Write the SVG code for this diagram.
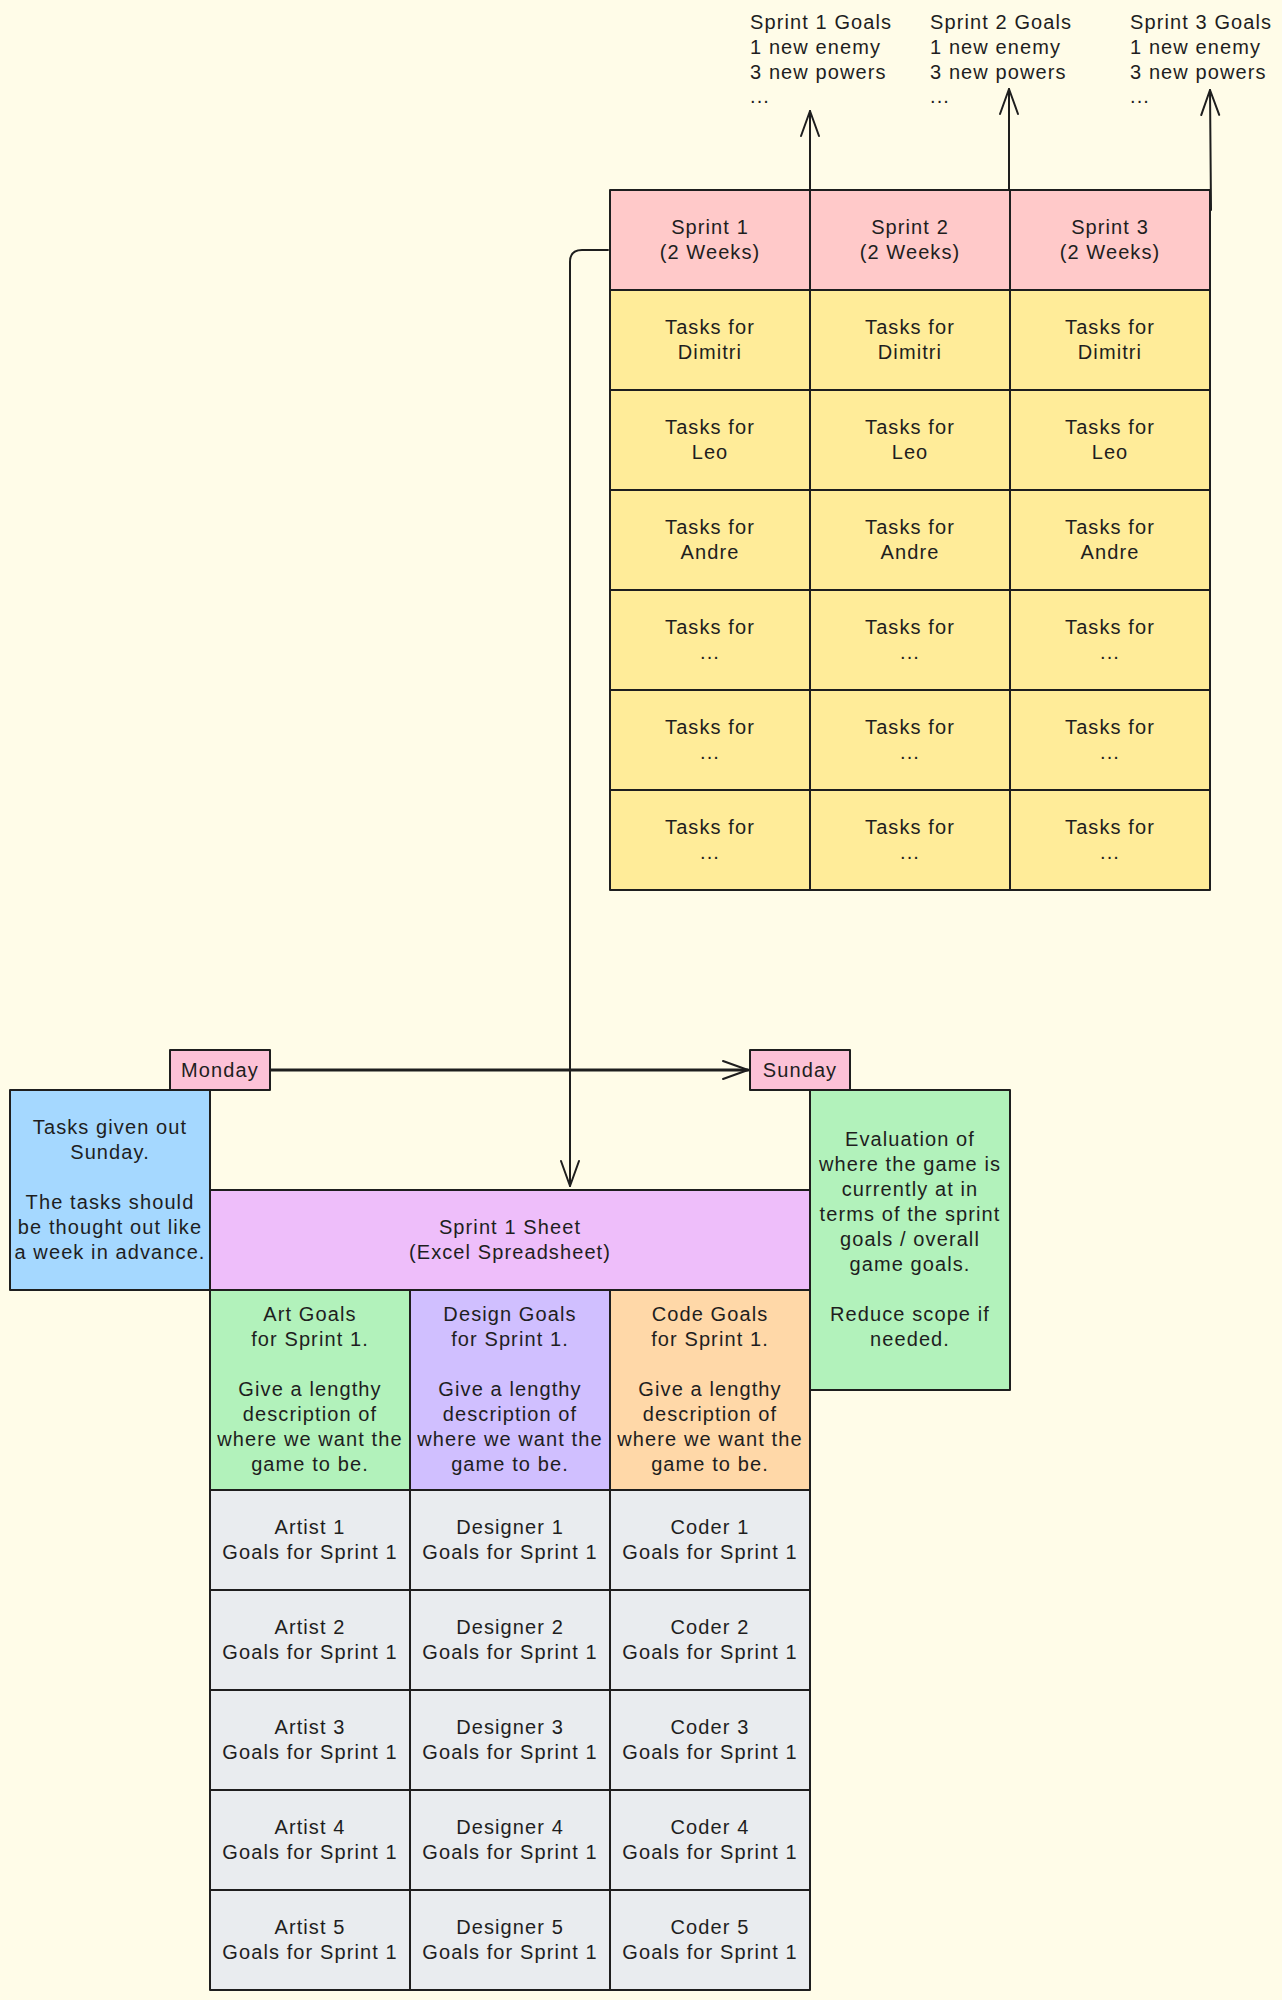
<svg xmlns="http://www.w3.org/2000/svg" width="1282" height="2000" viewBox="0 0 1282 2000">
<style>
.t{font-family:"Liberation Sans",Arial,sans-serif;font-size:20px;letter-spacing:1.1px;fill:#1e1e1e;text-anchor:middle}
.l{font-family:"Liberation Sans",Arial,sans-serif;font-size:20px;letter-spacing:1.1px;fill:#1e1e1e}
.c{stroke:#1e1e1e;stroke-width:2;stroke-linejoin:round}
.hd{fill:#ffc9c9}.yl{fill:#ffec99}.bl{fill:#a5d8ff}.gp{fill:#eebefa}.gr{fill:#b2f2bb}.vi{fill:#d0bfff}.or{fill:#ffd8a8}.gy{fill:#e9ecef}.pk{fill:#fcc2d7}
.a{fill:none;stroke:#1e1e1e;stroke-width:2;stroke-linecap:round;stroke-linejoin:round}
</style>
<defs>
<marker id="ah" markerUnits="userSpaceOnUse" viewBox="-30 -14 34 28" markerWidth="34" markerHeight="28" refX="0" refY="0" orient="auto" overflow="visible">
<path d="M -25 -9 L 0 0 L -25 9" fill="none" stroke="#1e1e1e" stroke-width="2" stroke-linecap="round" stroke-linejoin="round"/>
</marker>
</defs>
<rect width="1282" height="2000" fill="#fffce8"/>

<g id="goals-text">
<text class="l" x="750" y="29">Sprint 1 Goals</text>
<text class="l" x="750" y="54">1 new enemy</text>
<text class="l" x="750" y="79">3 new powers</text>
<text class="l" x="750" y="103">...</text>
<text class="l" x="930" y="29">Sprint 2 Goals</text>
<text class="l" x="930" y="54">1 new enemy</text>
<text class="l" x="930" y="79">3 new powers</text>
<text class="l" x="930" y="103">...</text>
<text class="l" x="1130" y="29">Sprint 3 Goals</text>
<text class="l" x="1130" y="54">1 new enemy</text>
<text class="l" x="1130" y="79">3 new powers</text>
<text class="l" x="1130" y="103">...</text>
</g>

<g id="sprint1-header"><rect class="c hd" x="610" y="190" width="200" height="100"/><text class="t"><tspan x="710" y="234">Sprint 1</tspan><tspan x="710" y="259">(2 Weeks)</tspan></text></g>
<g id="sprint2-header"><rect class="c hd" x="810" y="190" width="200" height="100"/><text class="t"><tspan x="910" y="234">Sprint 2</tspan><tspan x="910" y="259">(2 Weeks)</tspan></text></g>
<g id="sprint3-header"><rect class="c hd" x="1010" y="190" width="200" height="100"/><text class="t"><tspan x="1110" y="234">Sprint 3</tspan><tspan x="1110" y="259">(2 Weeks)</tspan></text></g>

<g id="s1-dimitri"><rect class="c yl" x="610" y="290" width="200" height="100"/><text class="t"><tspan x="710" y="334">Tasks for</tspan><tspan x="710" y="359">Dimitri</tspan></text></g>
<g id="s2-dimitri"><rect class="c yl" x="810" y="290" width="200" height="100"/><text class="t"><tspan x="910" y="334">Tasks for</tspan><tspan x="910" y="359">Dimitri</tspan></text></g>
<g id="s3-dimitri"><rect class="c yl" x="1010" y="290" width="200" height="100"/><text class="t"><tspan x="1110" y="334">Tasks for</tspan><tspan x="1110" y="359">Dimitri</tspan></text></g>

<g id="s1-leo"><rect class="c yl" x="610" y="390" width="200" height="100"/><text class="t"><tspan x="710" y="434">Tasks for</tspan><tspan x="710" y="459">Leo</tspan></text></g>
<g id="s2-leo"><rect class="c yl" x="810" y="390" width="200" height="100"/><text class="t"><tspan x="910" y="434">Tasks for</tspan><tspan x="910" y="459">Leo</tspan></text></g>
<g id="s3-leo"><rect class="c yl" x="1010" y="390" width="200" height="100"/><text class="t"><tspan x="1110" y="434">Tasks for</tspan><tspan x="1110" y="459">Leo</tspan></text></g>

<g id="s1-andre"><rect class="c yl" x="610" y="490" width="200" height="100"/><text class="t"><tspan x="710" y="534">Tasks for</tspan><tspan x="710" y="559">Andre</tspan></text></g>
<g id="s2-andre"><rect class="c yl" x="810" y="490" width="200" height="100"/><text class="t"><tspan x="910" y="534">Tasks for</tspan><tspan x="910" y="559">Andre</tspan></text></g>
<g id="s3-andre"><rect class="c yl" x="1010" y="490" width="200" height="100"/><text class="t"><tspan x="1110" y="534">Tasks for</tspan><tspan x="1110" y="559">Andre</tspan></text></g>

<g id="s1-more1"><rect class="c yl" x="610" y="590" width="200" height="100"/><text class="t"><tspan x="710" y="634">Tasks for</tspan><tspan x="710" y="659">...</tspan></text></g>
<g id="s2-more1"><rect class="c yl" x="810" y="590" width="200" height="100"/><text class="t"><tspan x="910" y="634">Tasks for</tspan><tspan x="910" y="659">...</tspan></text></g>
<g id="s3-more1"><rect class="c yl" x="1010" y="590" width="200" height="100"/><text class="t"><tspan x="1110" y="634">Tasks for</tspan><tspan x="1110" y="659">...</tspan></text></g>

<g id="s1-more2"><rect class="c yl" x="610" y="690" width="200" height="100"/><text class="t"><tspan x="710" y="734">Tasks for</tspan><tspan x="710" y="759">...</tspan></text></g>
<g id="s2-more2"><rect class="c yl" x="810" y="690" width="200" height="100"/><text class="t"><tspan x="910" y="734">Tasks for</tspan><tspan x="910" y="759">...</tspan></text></g>
<g id="s3-more2"><rect class="c yl" x="1010" y="690" width="200" height="100"/><text class="t"><tspan x="1110" y="734">Tasks for</tspan><tspan x="1110" y="759">...</tspan></text></g>

<g id="s1-more3"><rect class="c yl" x="610" y="790" width="200" height="100"/><text class="t"><tspan x="710" y="834">Tasks for</tspan><tspan x="710" y="859">...</tspan></text></g>
<g id="s2-more3"><rect class="c yl" x="810" y="790" width="200" height="100"/><text class="t"><tspan x="910" y="834">Tasks for</tspan><tspan x="910" y="859">...</tspan></text></g>
<g id="s3-more3"><rect class="c yl" x="1010" y="790" width="200" height="100"/><text class="t"><tspan x="1110" y="834">Tasks for</tspan><tspan x="1110" y="859">...</tspan></text></g>

<g id="monday"><rect class="c pk" x="170" y="1050" width="100" height="40"/><text class="t" x="220" y="1077">Monday</text></g>
<g id="sunday"><rect class="c pk" x="750" y="1050" width="100" height="40"/><text class="t" x="800" y="1077">Sunday</text></g>

<g id="tasks-given"><rect class="c bl" x="10" y="1090" width="200" height="200"/><text class="t"><tspan x="110" y="1134">Tasks given out</tspan><tspan x="110" y="1159">Sunday.</tspan><tspan x="110" y="1209">The tasks should</tspan><tspan x="110" y="1234">be thought out like</tspan><tspan x="110" y="1259">a week in advance.</tspan></text></g>

<g id="sprint1-sheet"><rect class="c gp" x="210" y="1190" width="600" height="100"/><text class="t"><tspan x="510" y="1234">Sprint 1 Sheet</tspan><tspan x="510" y="1259">(Excel Spreadsheet)</tspan></text></g>

<g id="evaluation"><rect class="c gr" x="810" y="1090" width="200" height="300"/><text class="t"><tspan x="910" y="1146">Evaluation of</tspan><tspan x="910" y="1171">where the game is</tspan><tspan x="910" y="1196">currently at in</tspan><tspan x="910" y="1221">terms of the sprint</tspan><tspan x="910" y="1246">goals / overall</tspan><tspan x="910" y="1271">game goals.</tspan><tspan x="910" y="1321">Reduce scope if</tspan><tspan x="910" y="1346">needed.</tspan></text></g>

<g id="art-goals"><rect class="c gr" x="210" y="1290" width="200" height="200"/><text class="t"><tspan x="310" y="1321">Art Goals</tspan><tspan x="310" y="1346">for Sprint 1.</tspan><tspan x="310" y="1396">Give a lengthy</tspan><tspan x="310" y="1421">description of</tspan><tspan x="310" y="1446">where we want the</tspan><tspan x="310" y="1471">game to be.</tspan></text></g>
<g id="design-goals"><rect class="c vi" x="410" y="1290" width="200" height="200"/><text class="t"><tspan x="510" y="1321">Design Goals</tspan><tspan x="510" y="1346">for Sprint 1.</tspan><tspan x="510" y="1396">Give a lengthy</tspan><tspan x="510" y="1421">description of</tspan><tspan x="510" y="1446">where we want the</tspan><tspan x="510" y="1471">game to be.</tspan></text></g>
<g id="code-goals"><rect class="c or" x="610" y="1290" width="200" height="200"/><text class="t"><tspan x="710" y="1321">Code Goals</tspan><tspan x="710" y="1346">for Sprint 1.</tspan><tspan x="710" y="1396">Give a lengthy</tspan><tspan x="710" y="1421">description of</tspan><tspan x="710" y="1446">where we want the</tspan><tspan x="710" y="1471">game to be.</tspan></text></g>

<g id="artist1"><rect class="c gy" x="210" y="1490" width="200" height="100"/><text class="t"><tspan x="310" y="1534">Artist 1</tspan><tspan x="310" y="1559">Goals for Sprint 1</tspan></text></g>
<g id="designer1"><rect class="c gy" x="410" y="1490" width="200" height="100"/><text class="t"><tspan x="510" y="1534">Designer 1</tspan><tspan x="510" y="1559">Goals for Sprint 1</tspan></text></g>
<g id="coder1"><rect class="c gy" x="610" y="1490" width="200" height="100"/><text class="t"><tspan x="710" y="1534">Coder 1</tspan><tspan x="710" y="1559">Goals for Sprint 1</tspan></text></g>

<g id="artist2"><rect class="c gy" x="210" y="1590" width="200" height="100"/><text class="t"><tspan x="310" y="1634">Artist 2</tspan><tspan x="310" y="1659">Goals for Sprint 1</tspan></text></g>
<g id="designer2"><rect class="c gy" x="410" y="1590" width="200" height="100"/><text class="t"><tspan x="510" y="1634">Designer 2</tspan><tspan x="510" y="1659">Goals for Sprint 1</tspan></text></g>
<g id="coder2"><rect class="c gy" x="610" y="1590" width="200" height="100"/><text class="t"><tspan x="710" y="1634">Coder 2</tspan><tspan x="710" y="1659">Goals for Sprint 1</tspan></text></g>

<g id="artist3"><rect class="c gy" x="210" y="1690" width="200" height="100"/><text class="t"><tspan x="310" y="1734">Artist 3</tspan><tspan x="310" y="1759">Goals for Sprint 1</tspan></text></g>
<g id="designer3"><rect class="c gy" x="410" y="1690" width="200" height="100"/><text class="t"><tspan x="510" y="1734">Designer 3</tspan><tspan x="510" y="1759">Goals for Sprint 1</tspan></text></g>
<g id="coder3"><rect class="c gy" x="610" y="1690" width="200" height="100"/><text class="t"><tspan x="710" y="1734">Coder 3</tspan><tspan x="710" y="1759">Goals for Sprint 1</tspan></text></g>

<g id="artist4"><rect class="c gy" x="210" y="1790" width="200" height="100"/><text class="t"><tspan x="310" y="1834">Artist 4</tspan><tspan x="310" y="1859">Goals for Sprint 1</tspan></text></g>
<g id="designer4"><rect class="c gy" x="410" y="1790" width="200" height="100"/><text class="t"><tspan x="510" y="1834">Designer 4</tspan><tspan x="510" y="1859">Goals for Sprint 1</tspan></text></g>
<g id="coder4"><rect class="c gy" x="610" y="1790" width="200" height="100"/><text class="t"><tspan x="710" y="1834">Coder 4</tspan><tspan x="710" y="1859">Goals for Sprint 1</tspan></text></g>

<g id="artist5"><rect class="c gy" x="210" y="1890" width="200" height="100"/><text class="t"><tspan x="310" y="1934">Artist 5</tspan><tspan x="310" y="1959">Goals for Sprint 1</tspan></text></g>
<g id="designer5"><rect class="c gy" x="410" y="1890" width="200" height="100"/><text class="t"><tspan x="510" y="1934">Designer 5</tspan><tspan x="510" y="1959">Goals for Sprint 1</tspan></text></g>
<g id="coder5"><rect class="c gy" x="610" y="1890" width="200" height="100"/><text class="t"><tspan x="710" y="1934">Coder 5</tspan><tspan x="710" y="1959">Goals for Sprint 1</tspan></text></g>

<g id="connectors">
<path class="a" d="M 810 190 L 810 111" marker-end="url(#ah)"/>
<path class="a" d="M 1009 190 L 1009 89" marker-end="url(#ah)"/>
<path class="a" d="M 1211 210 L 1210 90" marker-end="url(#ah)"/>
<path class="a" d="M 608 250 L 582 250 Q 570 250 570 262 L 570 1186" marker-end="url(#ah)"/>
<path class="a" style="stroke-width:3" d="M 271 1070 L 748 1070" marker-end="url(#ah)"/>
</g>
</svg>
